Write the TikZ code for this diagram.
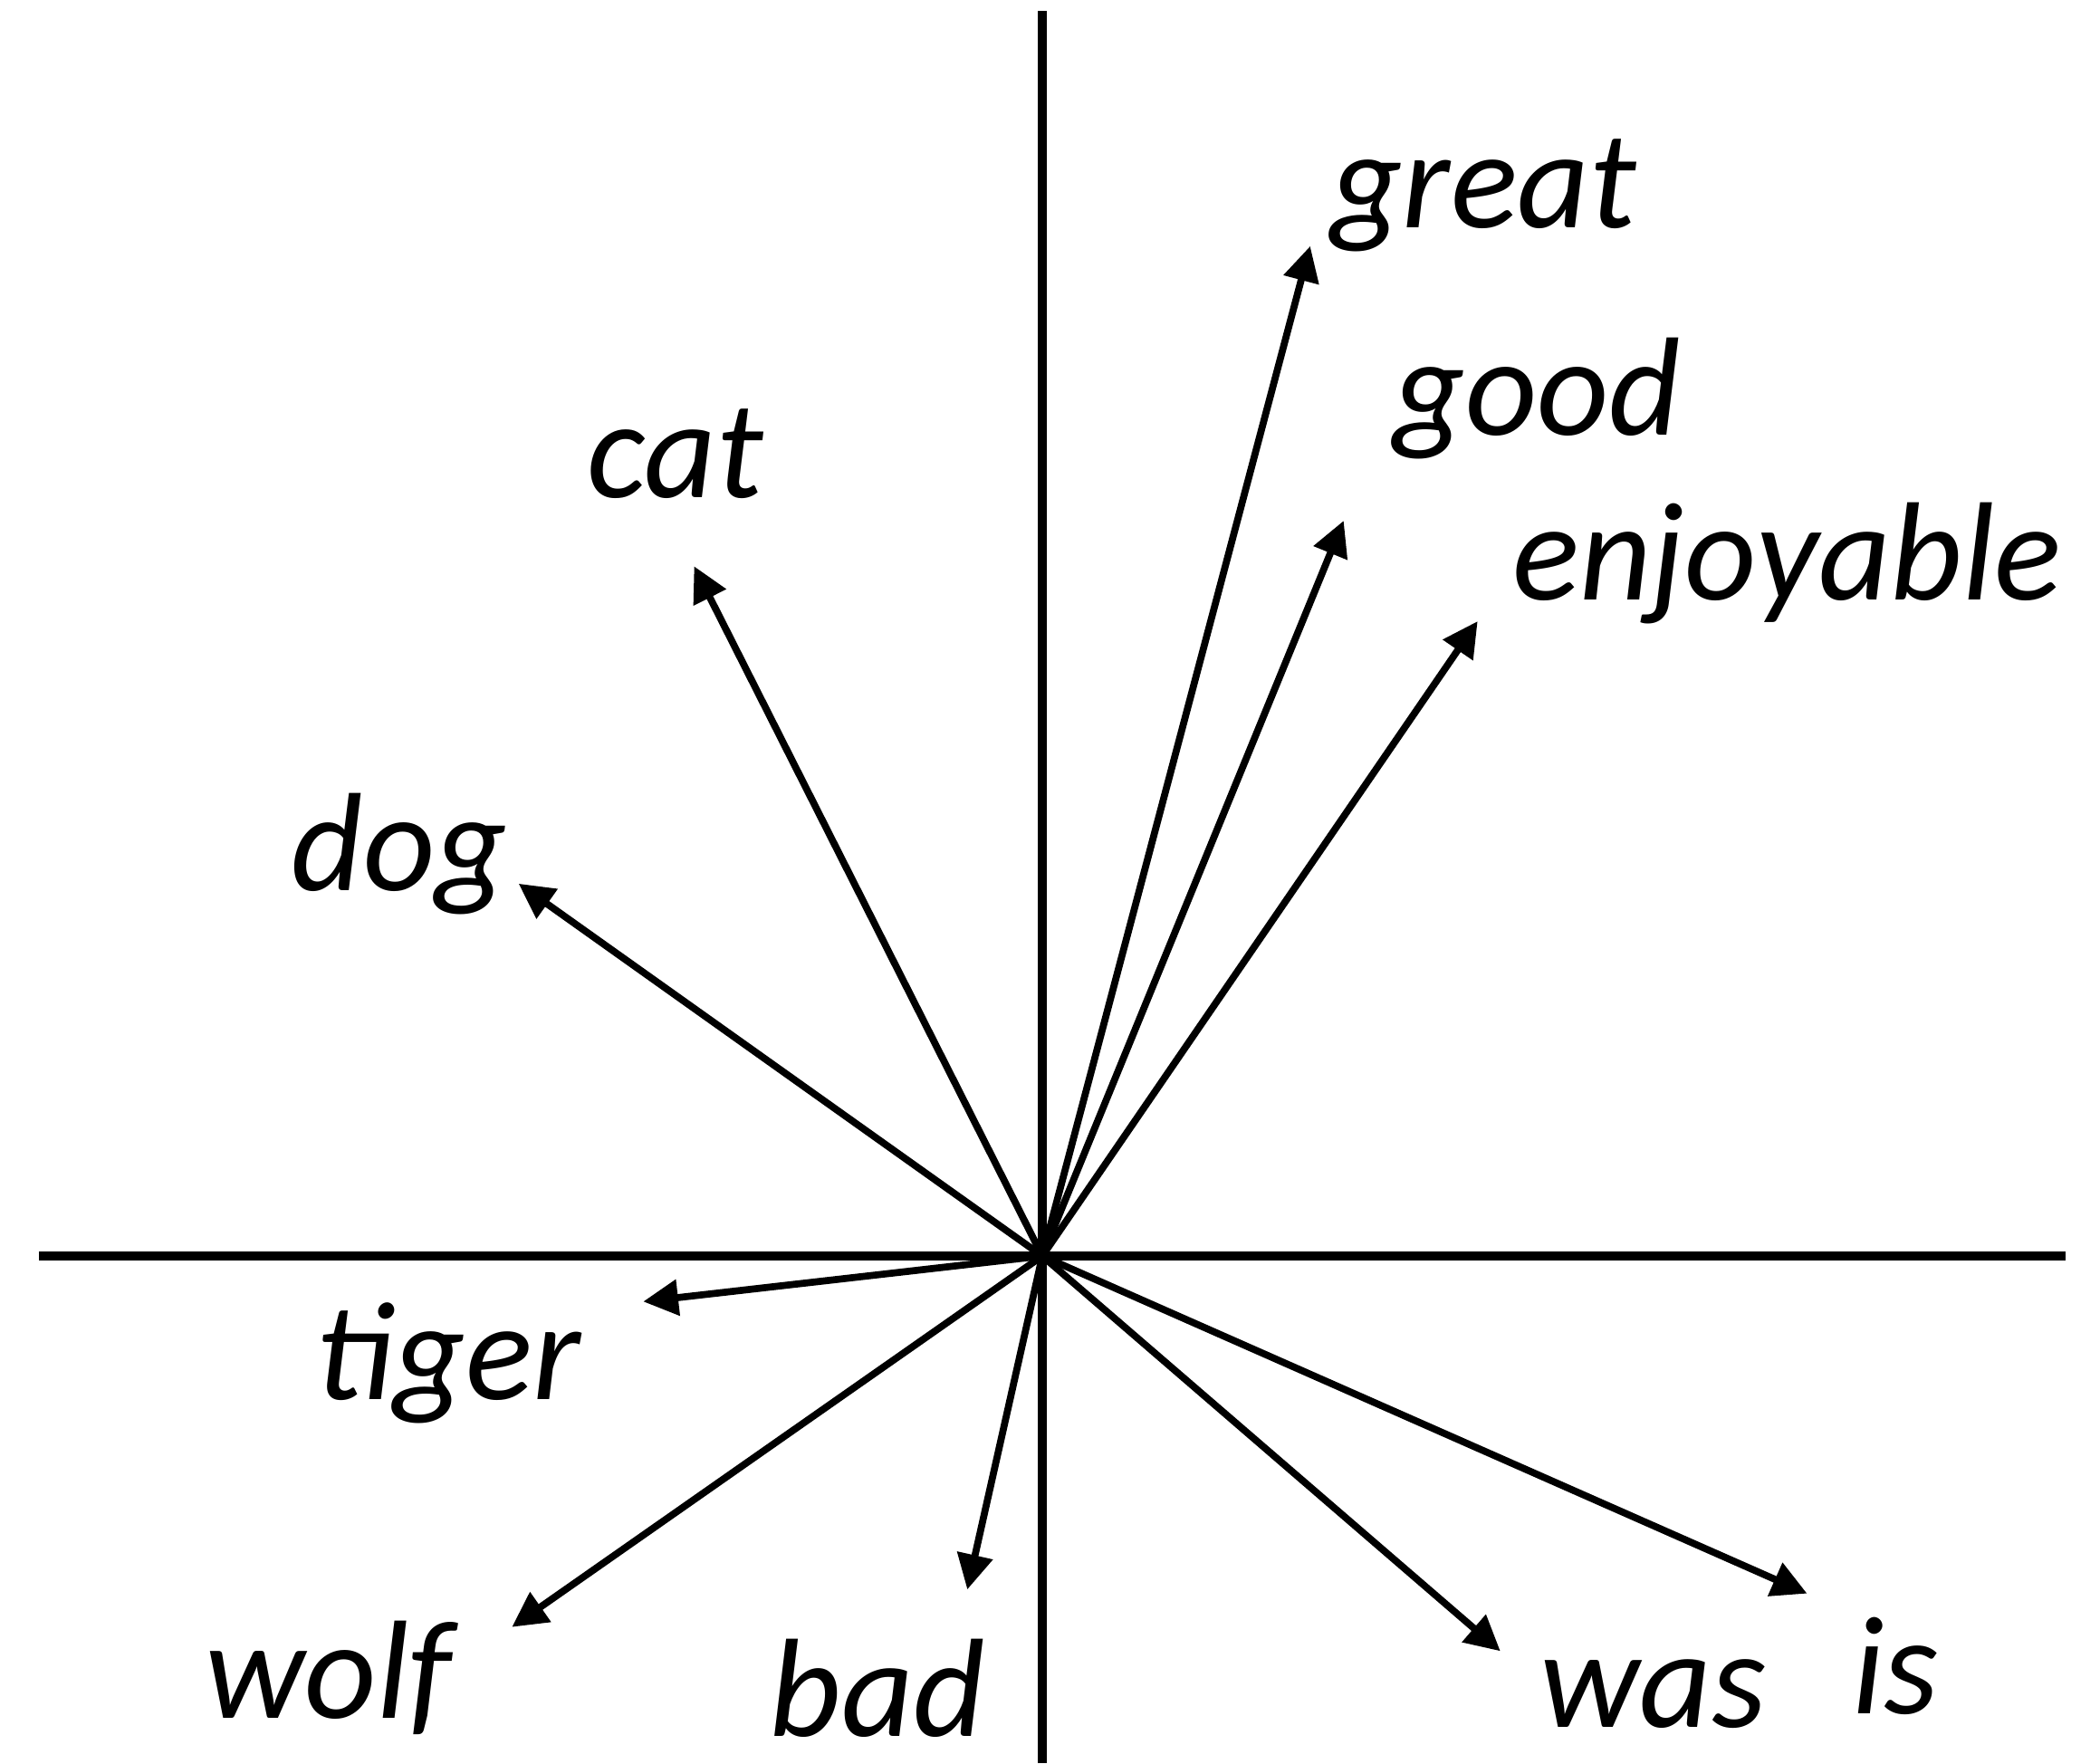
\documentclass[tikz,border=0pt]{standalone}
\usepackage{fontspec}
\setmainfont{Carlito}
\usetikzlibrary{arrows.meta}

\tikzset{
  axisline/.style={line width=3.1pt},
  vec/.style={line width=2.2pt, -{Triangle[length=11pt,width=11pt]}},
  word/.style={font=\itshape\fontsize{44}{50}\selectfont, inner sep=0pt, anchor=base}
}

\begin{document}
\begin{tikzpicture}
    \useasboundingbox (-11.51,-5.60) rectangle (11.68,13.87);

    % Achsen
    \draw[axisline] (-11.08,0) -- (11.30,0);
    \draw[axisline] (0,-5.60) -- (0,13.75);

    % Ursprung und Pfeilspitzen
    \coordinate (o) at (0,0);
    \coordinate (great-tip) at (2.958,11.152);
    \coordinate (good-tip) at (3.328,8.120);
    \coordinate (enjoyable-tip) at (4.807,7.010);
    \coordinate (cat-tip) at (-3.845,7.617);
    \coordinate (dog-tip) at (-5.783,4.112);
    \coordinate (tiger-tip) at (-4.407,-0.503);
    \coordinate (wolf-tip) at (-5.857,-4.097);
    \coordinate (bad-tip) at (-0.828,-3.683);
    \coordinate (was-tip) at (5.058,-4.363);
    \coordinate (is-tip) at (8.445,-3.727);

    % Woerter
    \node[word] (great) at (4.873,11.36) {great};
    \node[word] (good) at (5.465,9.066) {good};
    \node[word] (enjoyable) at (8.223,7.247) {enjoyable};
    \node[word] (cat) at (-4.052,8.371) {cat};
    \node[word] (dog) at (-7.099,4.038) {dog};
    \node[word] (tiger) at (-6.559,-1.583) {tiger};
    \node[word] (wolf) at (-7.883,-5.103) {wolf};
    \node[word] (bad) at (-1.819,-5.30) {bad};
    \node[word] (was) at (6.744,-5.206) {was};
    \node[word] (is) at (9.421,-5.058) {is};

    % Vektoren
    \foreach \w in {great,good,enjoyable,cat,dog,tiger,wolf,bad,was,is}
        \draw[vec] (o) -- (\w-tip);
\end{tikzpicture}
\end{document}
